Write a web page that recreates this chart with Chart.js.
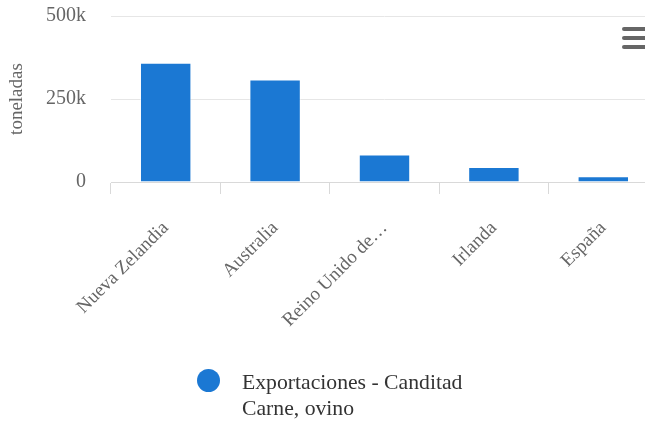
<!DOCTYPE html>
<html>
<head>
<meta charset="utf-8">
<script src="https://cdn.jsdelivr.net/npm/chart.js@4/dist/chart.umd.min.js"></script>
<style>
  html, body { margin: 0; padding: 0; background: #ffffff; overflow: hidden; }
  #wrap { position: relative; width: 645px; height: 421px; overflow: hidden; }
  #c { position: absolute; left: 0; top: 0; }
  .menu { position: absolute; left: 622px; width: 26px; height: 4px; background: #666; border-radius: 2px; }
  #legend { position: absolute; left: 197px; top: 369px; font-family: "Liberation Serif", serif; font-size: 21.7px; line-height: 26px; color: #333; }
  #legend .dot { position: absolute; left: 0; top: 0px; width: 23px; height: 23px; border-radius: 50%; background: #1b78d3; }
  #legend .txt { position: absolute; left: 45px; top: 0; white-space: nowrap; }
</style>
</head>
<body>
<div id="wrap">
  <canvas id="c" width="658" height="421"></canvas>
  <div class="menu" style="top:27px"></div>
  <div class="menu" style="top:36px"></div>
  <div class="menu" style="top:45px"></div>
  <div id="legend"><div class="dot"></div><div class="txt">Exportaciones - Canditad<br>Carne, ovino</div></div>
</div>
<script>
const categories = ["Nueva Zelandia", "Australia", "Reino Unido de…", "Irlanda", "España"];
const exportValues = [359000, 309000, 83000, 45000, 17000];
const seriesName = "Exportaciones - Canditad Carne, ovino";
const yTickValues = [0, 250000, 500000];
const yTickLabels = ["0", "250k", "500k"];
const yTitle = "toneladas";

const serif = "'Liberation Serif', 'Times New Roman', serif";

new Chart(document.getElementById('c'), {
  type: 'bar',
  data: {
    labels: categories,
    datasets: [{
      label: seriesName,
      data: exportValues,
      backgroundColor: '#1b78d3',
      borderColor: 'rgba(255,255,255,0.5)',
      borderWidth: 1,
      categoryPercentage: 1,
      barPercentage: 0.47
    }]
  },
  options: {
    responsive: false,
    animation: false,
    layout: { padding: { top: 16, right: 0, bottom: 0, left: 0 } },
    plugins: { legend: { display: false }, tooltip: { enabled: false } },
    scales: {
      x: {
        offset: true,
        grid: { display: true, drawOnChartArea: false, offset: true, color: '#d9d9d9', tickLength: 12 },
        border: { display: true, color: '#d9d9d9', width: 1 },
        ticks: {
          autoSkip: false, maxRotation: 45, minRotation: 45, padding: 23,
          color: '#666666', font: { family: serif, size: 19 }
        },
        afterFit: (s) => { s.height = 239; s.paddingLeft = 0; s.paddingRight = 0; }
      },
      y: {
        min: 0, max: 500000,
        afterBuildTicks: (s) => { s.ticks = yTickValues.map(v => ({ value: v })); },
        grid: { color: '#e6e6e6', drawTicks: false },
        border: { display: false },
        ticks: {
          padding: 25, color: '#666666', font: { family: serif, size: 20 },
          callback: (v) => { const i = yTickValues.indexOf(v); return i >= 0 ? yTickLabels[i] : ''; }
        },
        title: { display: true, text: yTitle, color: '#666666', font: { family: serif, size: 19 }, padding: { top: 6, bottom: 0 } },
        afterFit: (s) => { s.width = 111; s.paddingTop = 0; s.paddingBottom = 0; }
      }
    }
  }
});
</script>
</body>
</html>
